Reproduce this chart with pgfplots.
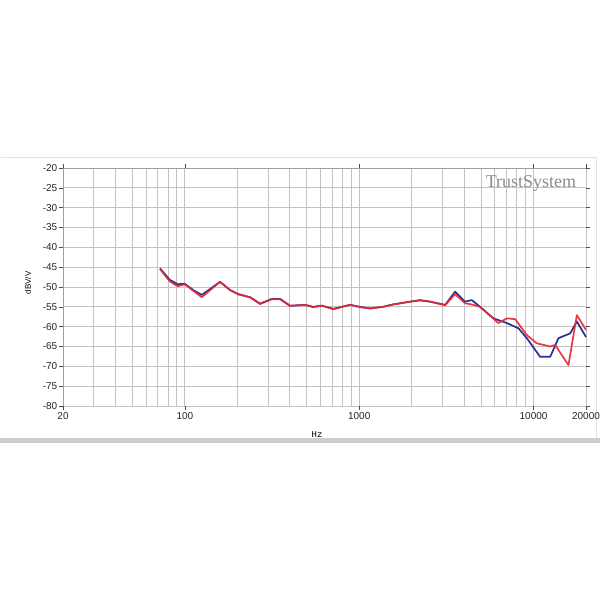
\documentclass[border=0pt]{standalone}
\usepackage{fontspec}
\setmainfont{Liberation Sans}
\newfontfamily\seriffont{Liberation Serif}
\newfontfamily\monofont{Liberation Mono}
\usepackage{pgfplots}
\pgfplotsset{compat=1.18}
\definecolor{cblue}{RGB}{40,50,150}
\definecolor{cred}{RGB}{232,40,50}
\definecolor{gridc}{RGB}{195,195,195}
\begin{document}
\begin{tikzpicture}
\useasboundingbox (0,0) rectangle (600pt,600pt);
\fill[white] (0,0) rectangle (600pt,600pt);
% outer frame
\draw[color={rgb,255:red,225;green,225;blue,225}, line width=1pt] (0.5pt,442pt) -- (596pt,442pt) -- (596pt,160pt);
\fill[color={rgb,255:red,205;green,205;blue,205}] (0pt,157pt) rectangle (600pt,162pt);
\begin{axis}[
  at={(63pt,194pt)}, anchor=south west, scale only axis,
  width=523pt, height=238pt,
  xmode=log, xmin=20, xmax=20000, ymin=-80, ymax=-20,
  xtick={20,100,1000,10000,20000},
  xticklabels={20,100,1000,10000,20000},
  log ticks with fixed point,
  minor xtick={30,40,50,60,70,80,90,200,300,400,500,600,700,800,900,2000,3000,4000,5000,6000,7000,8000,9000},
  ytick={-80,-75,-70,-65,-60,-55,-50,-45,-40,-35,-30,-25,-20},
  yticklabels={-80,-75,-70,-65,-60,-55,-50,-45,-40,-35,-30,-25,-20},
  grid=both,
  major grid style={gridc, line width=0.8pt},
  minor grid style={gridc, line width=0.8pt},
  tick align=outside,
  major tick length=4pt, minor tick length=0pt,
  tick style={black!70, line width=0.6pt},
  axis line style={draw=none},
  ticklabel style={font=\fontsize{10}{10}\selectfont, black!85},
  yticklabel style={inner sep=1.5pt},
  xticklabel style={inner sep=2pt},
  clip=false,
]
\draw[gray!75, line width=0.8pt] (rel axis cs:0,0) -- (rel axis cs:0,1) -- (rel axis cs:1,1);
\addplot[cblue, line width=1.7pt, line join=round] coordinates {
(72,-45.3) (82,-48.2) (91,-49.3) (100,-49.2) (112,-50.8) (125,-52.0) (159,-48.7)
(182,-50.8) (203,-51.8) (237,-52.6) (270,-54.2) (315,-53.0) (352,-53.0) (401,-54.7)
(489,-54.5) (545,-55.0) (610,-54.7) (711,-55.5) (887,-54.5) (1011,-55.0) (1154,-55.4)
(1371,-55.0) (1564,-54.4) (1958,-53.7) (2234,-53.3) (2551,-53.7) (3110,-54.5)
(3549,-51.2) (4049,-53.7) (4423,-53.3) (4935,-55.0) (5887,-57.9) (7034,-59.1)
(8193,-60.4) (9150,-62.9) (10910,-67.6) (12460,-67.6) (13900,-62.9) (16220,-61.7)
(17720,-58.7) (20000,-62.6)
};
\addplot[cred, line width=1.7pt, line join=round, opacity=0.92] coordinates {
(72,-45.5) (82,-48.6) (91,-49.8) (100,-49.3) (112,-51.0) (125,-52.6) (159,-48.7)
(182,-50.8) (203,-51.9) (237,-52.6) (270,-54.3) (315,-53.1) (352,-53.1) (401,-54.8)
(489,-54.5) (545,-55.1) (610,-54.7) (711,-55.6) (887,-54.5) (1011,-55.1) (1154,-55.4)
(1371,-55.0) (1564,-54.4) (1958,-53.7) (2234,-53.4) (2551,-53.7) (3110,-54.6)
(3549,-51.8) (4049,-54.1) (4423,-54.4) (4935,-55.0) (6289,-59.1) (7034,-57.9)
(7843,-58.1) (9150,-62.1) (10440,-64.2) (12460,-65.0) (13300,-64.6) (15860,-69.7)
(17720,-57.1) (20000,-60.8)
};
\end{axis}
\node[text={rgb,255:red,140;green,140;blue,140}, font=\seriffont\fontsize{18}{18}\selectfont] at (531pt,417pt) {TrustSystem};
\node[rotate=90, font=\fontsize{8}{8}\selectfont] at (28pt,317pt) {dBV/V};
\node[font=\monofont\fontsize{9}{9}\selectfont] at (317pt,165pt) {Hz};
\end{tikzpicture}
\end{document}
